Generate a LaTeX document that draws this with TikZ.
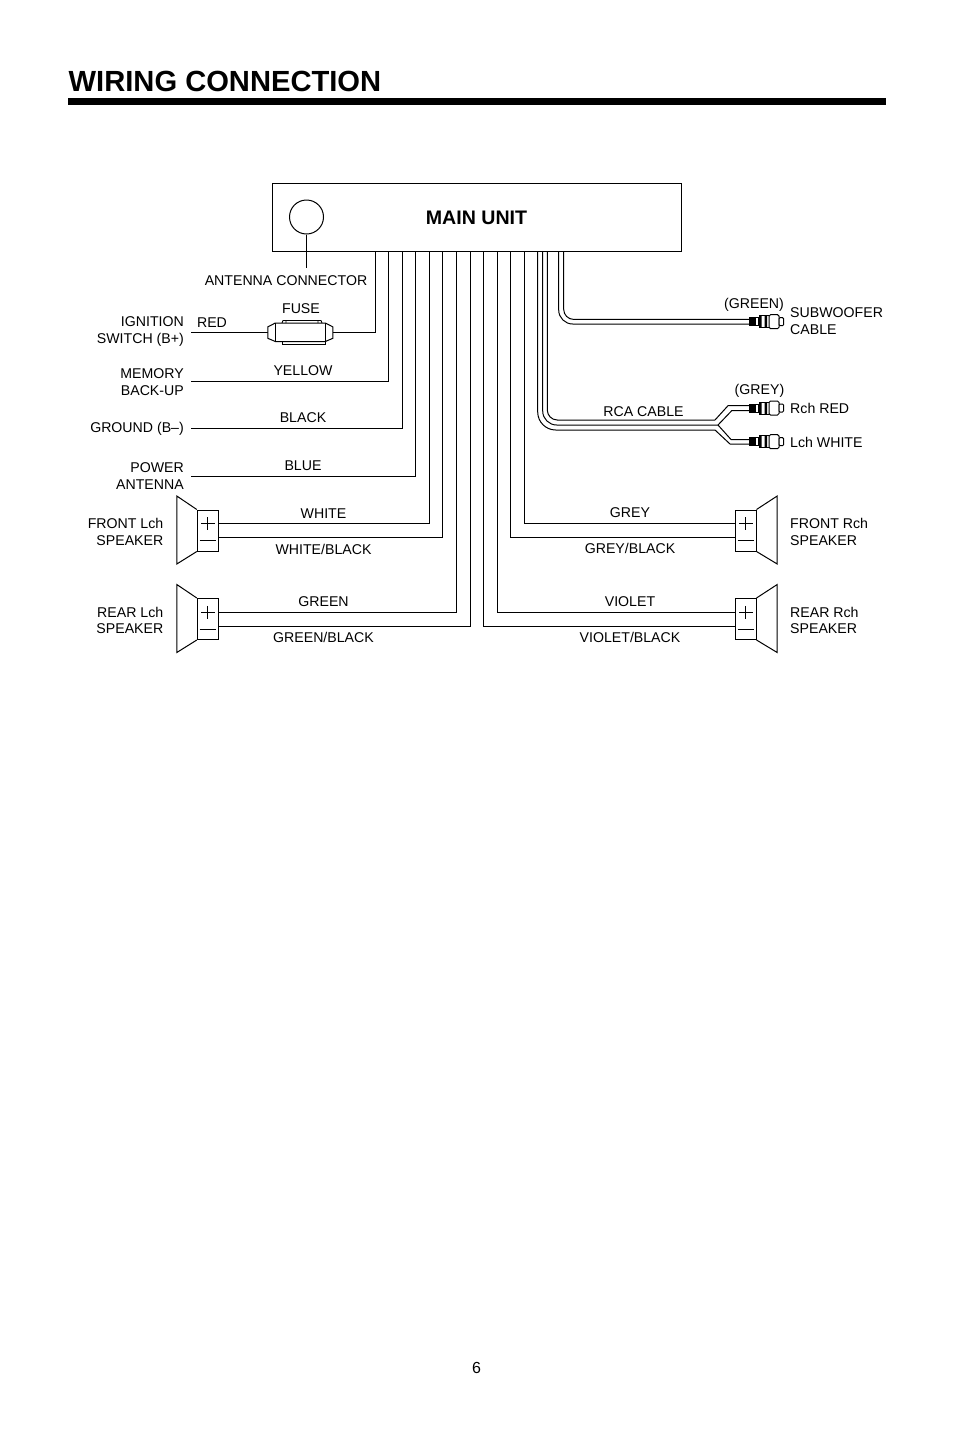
\documentclass[tikz,border=0pt]{standalone}
\usepackage{fontspec}
\setmainfont{Liberation Sans}
\tikzset{
    lbl/.style={font=\fontsize{14.15}{16.8}\selectfont,inner sep=0pt,align=center},
    lblr/.style={lbl,align=right,anchor=east},
    lbll/.style={lbl,align=left,anchor=west},
    wire/.style={line width=1pt},
    spkbox/.style={draw,rectangle,line width=1pt,minimum width=20.7,minimum height=41,inner sep=0pt},
    pics/rcaplug/.style={code={
        \draw[line width=.9pt,fill=white] (0,-4) rectangle (9,4);
        \foreach \i in {2,4,6} \draw[line width=1.1pt] (\i,-4) -- (\i,4);
        \draw[line width=1pt,fill=white] (10,-6) rectangle (20,6);
        \fill (10,-6) rectangle (12.5,6) (15.5,-6) rectangle (18,6);
        \draw[line width=1pt,fill=white,rounded corners=1.5pt] (20,-7) rectangle (30,7);
        \draw[line width=1pt,fill=white,rounded corners=1pt] (30,-4) rectangle (34.5,4);
    }}
}
\begin{document}
\begin{tikzpicture}[x=1pt,y=-1pt]
    \useasboundingbox (0,0) rectangle (954,1430);
    % heading
    \node[anchor=base west,inner sep=0pt,font=\bfseries\fontsize{29.15}{35}\selectfont] (title) at (68.5,91) {WIRING CONNECTION};
    \fill (68,98) rectangle (886,105);
    % main unit
    \node[draw,rectangle,line width=1pt,minimum width=408.5,minimum height=68,inner sep=0pt] (main) at (476.75,217) {};
    \node[font=\bfseries\fontsize{19.6}{24}\selectfont,inner sep=0pt] (mainlbl) at (476.5,218) {MAIN UNIT};
    \node[draw,circle,line width=1pt,minimum size=34,inner sep=0pt] (ant) at (306.5,217) {};
    \node[lbl] (antlbl) at (286,281) {ANTENNA CONNECTOR};
    \coordinate (antend) at (306.5,268);
    \draw[wire] (ant) -- (antend);
    % left side labels
    \node[lblr] (ign) at (184,331.5) {IGNITION\\SWITCH (B+)};
    \node[lblr] (mem) at (184,382) {MEMORY\\BACK-UP};
    \node[lblr] (gnd) at (184,429) {GROUND (B--)};
    \node[lblr] (pow) at (184,476) {POWER\\ANTENNA};
    \node[lblr] (fl) at (163.5,532) {FRONT Lch\\SPEAKER};
    \node[lblr] (rl) at (163.5,620.5) {REAR Lch\\SPEAKER};
    % right side labels
    \node[lbll] (sub) at (790,321) {SUBWOOFER\\CABLE};
    \node[lbll] (rred) at (790,408) {Rch RED};
    \node[lbll] (lwhite) at (790,442) {Lch WHITE};
    \node[lbll] (fr) at (790,532) {FRONT Rch\\SPEAKER};
    \node[lbll] (rr) at (790,620.5) {REAR Rch\\SPEAKER};
    % wire labels
    \node[lbl] (redlbl) at (212,323) {RED};
    \node[lbl] (fuselbl) at (301,309) {FUSE};
    \node[lbl] (yellowlbl) at (303,371) {YELLOW};
    \node[lbl] (blacklbl) at (303,418) {BLACK};
    \node[lbl] (bluelbl) at (303,466) {BLUE};
    \node[lbl] (whitelbl) at (323.5,514) {WHITE};
    \node[lbl] (whiteblbl) at (323.5,549.5) {WHITE/BLACK};
    \node[lbl] (greenlbl) at (323.5,602) {GREEN};
    \node[lbl] (greenblbl) at (323.5,637.5) {GREEN/BLACK};
    \node[lbl] (greylbl) at (630,513) {GREY};
    \node[lbl] (greyblbl) at (630,548.5) {GREY/BLACK};
    \node[lbl] (violetlbl) at (630,602) {VIOLET};
    \node[lbl] (violetblbl) at (630,637.5) {VIOLET/BLACK};
    \node[lbl] (rcalbl) at (643.5,412) {RCA CABLE};
    \node[lbl] (subcol) at (754,304.5) {(GREEN)};
    \node[lbl] (rcacol) at (759.5,390.5) {(GREY)};
    % wire tops at the main unit
    \foreach \n/\x in {red/375,yellow/388.3,black/402,blue/415.7,white/429,whiteb/442.7,green/456.3,greenb/470,violetb/483.7,violet/497.3,greyb/510.7,grey/524.3,rcaa/537.7,rcab/542.7,rcac/547.3,suba/558.7,subb/563.7}
        \coordinate (\n top) at (\x,251);
    % fuse
    \node[rectangle,minimum width=64.7,minimum height=11,inner sep=0pt] (fuse) at (300.35,332.6) {};
    \coordinate (redend) at (191,332.6);
    \coordinate (yellowend) at (191,381);
    \coordinate (blackend) at (191,428.5);
    \coordinate (blueend) at (191,476);
    \draw[wire] (redend) -- (fuse.west);
    \draw[wire] (fuse.east) -| (redtop);
    \draw[line width=.9pt] (282,323) -- (283,320.5) -- (286,320.5) -- (286,323) (286,320.5) -- (318,320.5) -- (318,323) (318,320.5) -- (321,320.5) -- (322,323);
    \draw[line width=.9pt] (282.7,341) -- (282.7,344) -- (325,344) -- (325,341);
    \draw[wire,fill=white] (fuse.north west) -- (275.3,323) -- (325.3,323) -- (fuse.north east) -- (fuse.south east) -- (325.3,341.5) -- (275.3,341.5) -- (fuse.south west) -- cycle;
    \draw[line width=.9pt] (275.3,323) -- (275.3,341.5) (325.3,323) -- (325.3,341.5);
    \draw[wire] (yellowend) -| (yellowtop);
    \draw[wire] (blackend) -| (blacktop);
    \draw[wire] (blueend) -| (bluetop);
    % speakers
    \foreach \n/\y/\ym in {fls/530.5/540.7,rls/619/629} {
        \node[spkbox] (\n) at (207.65,\y) {};
        \draw[line width=1pt] (\n.north west) -- ++(-20,-13.5) -- ++(0,68) -- (\n.south west);
        \draw[line width=.9pt] (201,\y-6.7) -- (214.5,\y-6.7) (207.75,\y-13.2) -- (207.75,\y-.2) (199.5,\ym) -- (215.5,\ym);
    }
    \foreach \n/\y/\ym in {frs/530.5/540.7,rrs/619/629} {
        \node[spkbox] (\n) at (745.65,\y) {};
        \draw[line width=1pt] (\n.north east) -- ++(20.7,-13.5) -- ++(0,68) -- (\n.south east);
        \draw[line width=.9pt] (739,\y-6.7) -- (752.5,\y-6.7) (745.75,\y-13.2) -- (745.75,\y-.2) (737.5,\ym) -- (753.5,\ym);
    }
    % speaker wires
    \draw[wire] (fls.east |- 0,523.5) -| (whitetop);
    \draw[wire] (fls.east |- 0,537) -| (whitebtop);
    \draw[wire] (rls.east |- 0,612) -| (greentop);
    \draw[wire] (rls.east |- 0,626) -| (greenbtop);
    \draw[wire] (frs.west |- 0,523.5) -| (greytop);
    \draw[wire] (frs.west |- 0,537) -| (greybtop);
    \draw[wire] (rrs.west |- 0,612) -| (violettop);
    \draw[wire] (rrs.west |- 0,626) -| (violetbtop);
    % subwoofer cable
    \coordinate (subplug) at (749,321.7);
    \draw[wire,rounded corners=14pt] (subatop) |- (749,324);
    \draw[wire,rounded corners=10pt] (subbtop) |- (749,319.4);
    \pic at (subplug) {rcaplug};
    % rca cable
    \coordinate (rplug) at (749,408);
    \coordinate (lplug) at (749,441.7);
    \coordinate (rcafork) at (718,425);
    \draw[wire,rounded corners=18pt] (rcaatop) |- (715,430);
    \draw[wire] (715,430) -- (730,444) -- (lplug |- 0,444);
    \draw[wire,rounded corners=14pt] (rcabtop) |- (rcafork);
    \draw[wire,rounded corners=10pt] (rcactop) |- (715,420);
    \draw[wire] (715,420) -- (728,405.7) -- (rplug |- 0,405.7);
    \draw[wire] (rcafork) -- (731.7,410.7) -- (rplug |- 0,410.7);
    \draw[wire] (rcafork) -- (731,439.5) -- (lplug |- 0,439.5);
    \pic at (rplug) {rcaplug};
    \pic at (lplug) {rcaplug};
    % page number
    \node[lbl,font=\fontsize{16}{18}\selectfont] (page) at (476.5,1368) {6};
\end{tikzpicture}
\end{document}
